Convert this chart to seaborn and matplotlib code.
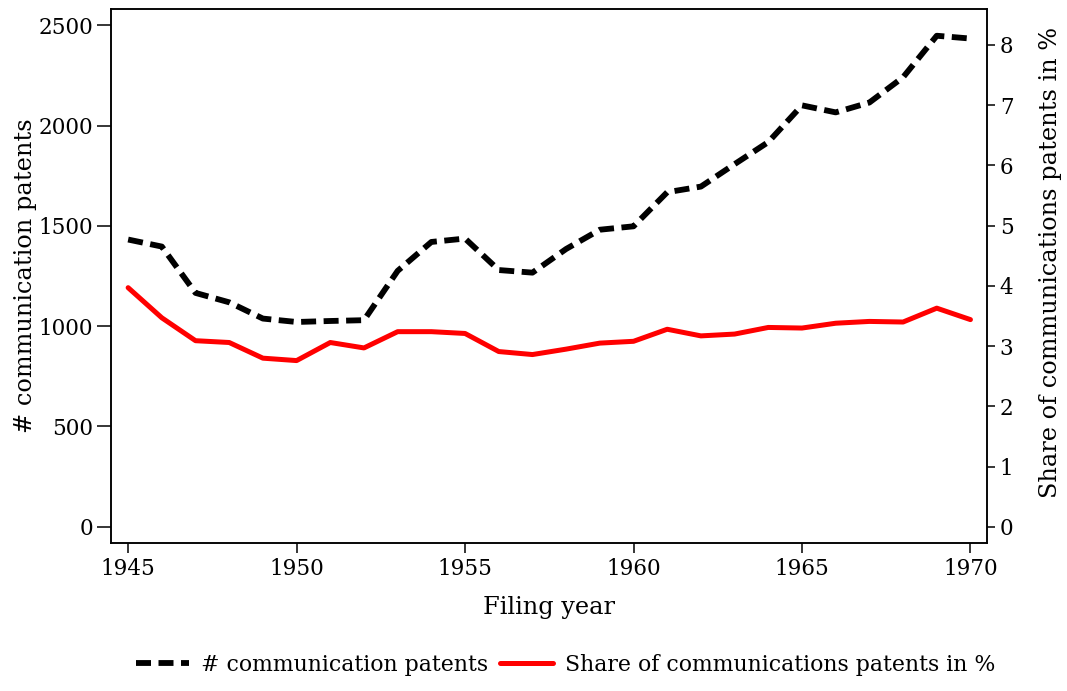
import pandas as pd
import numpy as np
import seaborn as sns
import matplotlib.pyplot as plt

years = list(range(1945, 1971))
patents = [1432, 1397, 1166, 1119, 1038, 1021, 1026, 1030, 1276, 1420, 1437, 1280, 1267,
           1385, 1481, 1498, 1668, 1696, 1808, 1918, 2101, 2066, 2115, 2241, 2448, 2434]
share = [3.97, 3.47, 3.09, 3.06, 2.80, 2.76, 3.06, 2.97, 3.24, 3.24, 3.21, 2.91, 2.86,
         2.95, 3.05, 3.08, 3.28, 3.17, 3.20, 3.31, 3.30, 3.38, 3.41, 3.40, 3.63, 3.44]
x_ticks = [1945, 1950, 1955, 1960, 1965, 1970]
left_ticks = [0, 500, 1000, 1500, 2000, 2500]
right_ticks = [0, 1, 2, 3, 4, 5, 6, 7, 8]

df = pd.DataFrame({"year": years, "patents": patents, "share": share})

sns.set_style("ticks")
plt.rcParams['font.family'] = 'DejaVu Serif'
plt.rcParams['lines.scale_dashes'] = False
for k in ['text.color', 'axes.labelcolor', 'xtick.color', 'ytick.color', 'axes.edgecolor']:
    plt.rcParams[k] = 'black'

fig = plt.figure(figsize=(10.67, 6.91), dpi=100)
ax = fig.add_axes([0.1043, 0.2147, 0.821, 0.7716])
ax2 = ax.twinx()

sns.lineplot(data=df, x="year", y="patents", ax=ax, color="black", lw=4.2,
             linestyle=(0, (10.8, 5.4)), label="# communication patents", legend=False)
sns.lineplot(data=df, x="year", y="share", ax=ax2, color="#ff0000", lw=3.6,
             label="Share of communications patents in %", legend=False)

ax.set_xlim(1944.5, 1970.5)
ax.set_xticks(x_ticks)
ax.set_ylim(-79, 2579)
ax.set_yticks(left_ticks)
ax2.set_ylim(-0.262, 8.588)
ax2.set_yticks(right_ticks)

fs_tick = 15.5
ax.tick_params(axis='y', length=10, width=1.1, pad=3, labelsize=fs_tick)
ax.tick_params(axis='x', length=7, width=1.1, pad=4, labelsize=fs_tick)
ax2.tick_params(axis='y', length=6, width=1.1, pad=3, labelsize=fs_tick)

for a in (ax, ax2):
    for s in a.spines.values():
        s.set_color('black')
        s.set_linewidth(1.1)

fs = 17.3
ax.set_xlabel("Filing year", fontsize=fs)
ax.set_ylabel("# communication patents", fontsize=fs)
ax2.set_ylabel("Share of communications patents in %", fontsize=fs)
ax.xaxis.set_label_coords(0.5, -0.1208)
ax.xaxis.label.set_verticalalignment('center')
ax.yaxis.set_label_coords(-0.0985, 0.5)
ax.yaxis.label.set_verticalalignment('center')
ax2.yaxis.set_label_coords(1.0716, 0.526)
ax2.yaxis.label.set_verticalalignment('center')

handles = ax.get_lines()[:1] + ax2.get_lines()[:1]
labels = [h.get_label() for h in handles]
fig.legend(handles, labels, loc="center", bbox_to_anchor=(0.530, 1 - 665 / 691), ncol=2,
           frameon=False, fontsize=15.8, handlelength=2.42,
           handletextpad=0.54, columnspacing=0.54)

fig.savefig("out.png", dpi=100)
